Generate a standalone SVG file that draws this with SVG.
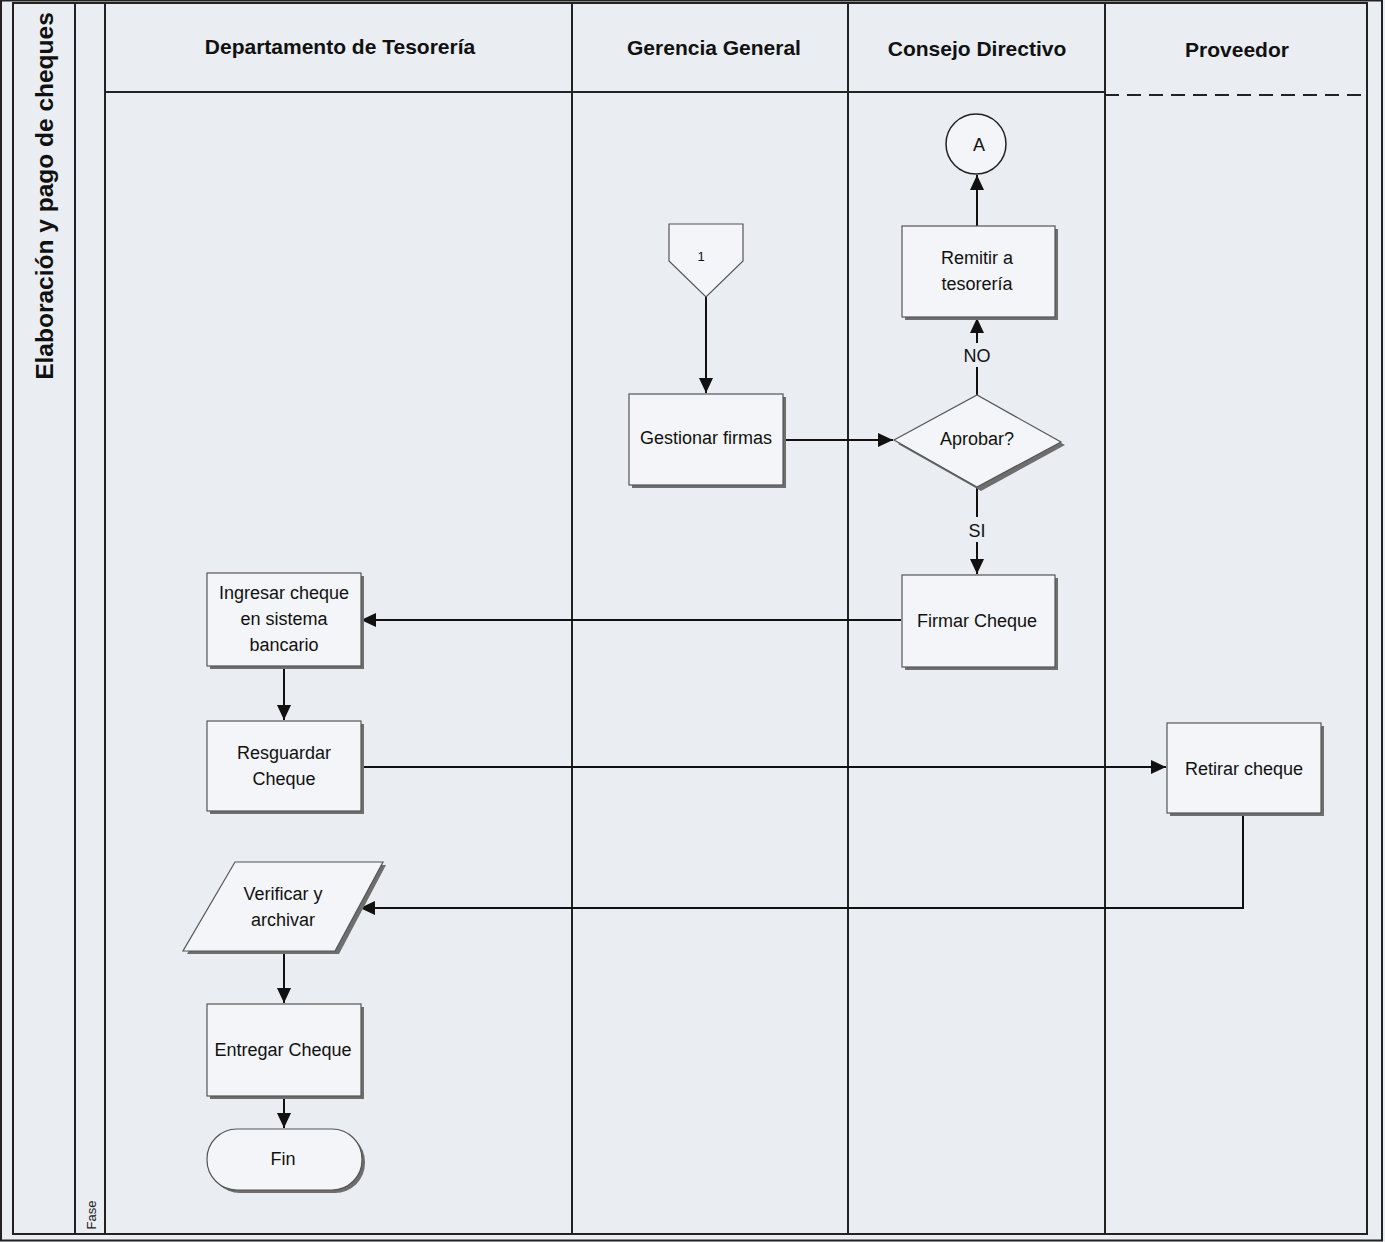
<svg xmlns="http://www.w3.org/2000/svg" width="1385" height="1242" viewBox="0 0 1385 1242">
  <defs>
    <marker id="arrow" markerUnits="userSpaceOnUse" markerWidth="16" markerHeight="14" refX="15" refY="7" orient="auto">
      <path d="M0,0 L15,7 L0,14 z" fill="#111"/>
    </marker>
    <style>
      .frame { fill: none; stroke: #222; stroke-width: 2; }
      .lane { stroke: #222; stroke-width: 2; fill: none; }
      .hdr { font-family: "Liberation Sans", Arial, sans-serif; font-weight: bold; font-size: 21px; fill: #111; text-anchor: middle; }
      .box { fill: #f3f5f8; stroke: #555; stroke-width: 1.2; }
      .shadow { fill: #6e6e6e; }
      .lbl { font-family: "Liberation Sans", Arial, sans-serif; font-size: 18px; fill: #111; text-anchor: middle; }
      .conn { fill: none; stroke: #111; stroke-width: 2; }
      .gap { fill: #eaedf1; }
    </style>
  </defs>

  <!-- page background -->
  <rect x="0" y="0" width="1385" height="1242" fill="#eaedf1"/>

  <!-- pool frame and lanes -->
  <g id="pool">
    <rect class="frame" x="1" y="0.5" width="1381" height="1240" stroke-width="1.5"/>
    <rect class="frame" x="13" y="3" width="1354" height="1231"/>
    <line class="lane" x1="75" y1="3" x2="75" y2="1234"/>
    <line class="lane" x1="105" y1="3" x2="105" y2="1234"/>
    <line class="lane" x1="572" y1="3" x2="572" y2="1234"/>
    <line class="lane" x1="848" y1="3" x2="848" y2="1234"/>
    <line class="lane" x1="1105" y1="3" x2="1105" y2="1234"/>
    <line class="lane" x1="105" y1="92" x2="1105" y2="92"/>
    <line class="lane" x1="1105" y1="95" x2="1367" y2="95" stroke-dasharray="14,8"/>
    <text transform="translate(53,196) rotate(-90)" font-family="'Liberation Sans', Arial, sans-serif" font-weight="bold" font-size="24.5" fill="#111" text-anchor="middle">Elaboración y pago de cheques</text>
    <text transform="translate(96,1215) rotate(-90)" font-family="'Liberation Sans', Arial, sans-serif" font-size="13" fill="#222" text-anchor="middle">Fase</text>
    <text class="hdr" x="340" y="54">Departamento de Tesorería</text>
    <text class="hdr" x="714" y="55">Gerencia General</text>
    <text class="hdr" x="977" y="56">Consejo Directivo</text>
    <text class="hdr" x="1237" y="57">Proveedor</text>
  </g>

  <!-- connectors -->
  <g id="connectors">
    <path class="conn" d="M706,297 V393" marker-end="url(#arrow)"/>
    <path class="conn" d="M783,440 H893" marker-end="url(#arrow)"/>
    <path class="conn" d="M977,395 V318" marker-end="url(#arrow)"/>
    <rect class="gap" x="962" y="343" width="30" height="24"/>
    <text class="lbl" x="977" y="362">NO</text>
    <path class="conn" d="M977,226 V175" marker-end="url(#arrow)"/>
    <path class="conn" d="M977,487 V574" marker-end="url(#arrow)"/>
    <rect class="gap" x="964" y="517" width="26" height="25"/>
    <text class="lbl" x="977" y="537">SI</text>
    <path class="conn" d="M901,620 H361" marker-end="url(#arrow)"/>
    <path class="conn" d="M284,666 V720" marker-end="url(#arrow)"/>
    <path class="conn" d="M361,767 H1166" marker-end="url(#arrow)"/>
    <path class="conn" d="M1243,813 V908 H360" marker-end="url(#arrow)"/>
    <path class="conn" d="M284,951 V1003" marker-end="url(#arrow)"/>
    <path class="conn" d="M284,1096 V1128" marker-end="url(#arrow)"/>
  </g>

  <!-- off-page connector 1 -->
  <g id="node-offpage-1">
    <path d="M669,224 H743 V261 L706,297 L669,261 z" fill="#f3f5f8" stroke="#555" stroke-width="1.2"/>
    <text x="701" y="261" font-family="'Liberation Sans', Arial, sans-serif" font-size="13" fill="#111" text-anchor="middle">1</text>
  </g>

  <!-- on-page connector A -->
  <g id="node-connector-a">
    <circle cx="976" cy="144" r="30" fill="#f3f5f8" stroke="#222" stroke-width="1.5"/>
    <text class="lbl" x="979" y="151">A</text>
  </g>

  <g id="node-gestionar-firmas">
    <rect class="shadow" x="632" y="397" width="154" height="91"/>
    <rect class="box" x="629" y="394" width="154" height="91"/>
    <text class="lbl" x="706" y="444">Gestionar firmas</text>
  </g>

  <g id="node-aprobar">
    <path class="shadow" d="M898,444 L981,398 L1065,445 L981,491 z"/>
    <path class="box" d="M894,440 L977,395 L1061,442 L977,487 z"/>
    <text class="lbl" x="977" y="445">Aprobar?</text>
  </g>

  <g id="node-remitir">
    <rect class="shadow" x="905" y="229" width="153" height="91"/>
    <rect class="box" x="902" y="226" width="153" height="91"/>
    <text class="lbl" x="977" y="264">Remitir a</text>
    <text class="lbl" x="977" y="290">tesorería</text>
  </g>

  <g id="node-firmar">
    <rect class="shadow" x="905" y="578" width="153" height="92"/>
    <rect class="box" x="902" y="575" width="153" height="92"/>
    <text class="lbl" x="977" y="627">Firmar Cheque</text>
  </g>

  <g id="node-ingresar">
    <rect class="shadow" x="210" y="576" width="154" height="93"/>
    <rect class="box" x="207" y="573" width="154" height="93"/>
    <text class="lbl" x="284" y="599">Ingresar cheque</text>
    <text class="lbl" x="284" y="625">en sistema</text>
    <text class="lbl" x="284" y="651">bancario</text>
  </g>

  <g id="node-resguardar">
    <rect class="shadow" x="210" y="724" width="154" height="90"/>
    <rect class="box" x="207" y="721" width="154" height="90"/>
    <text class="lbl" x="284" y="759">Resguardar</text>
    <text class="lbl" x="284" y="785">Cheque</text>
  </g>

  <g id="node-retirar">
    <rect class="shadow" x="1170" y="726" width="154" height="90"/>
    <rect class="box" x="1167" y="723" width="154" height="90"/>
    <text class="lbl" x="1244" y="775">Retirar cheque</text>
  </g>

  <g id="node-verificar">
    <path class="shadow" d="M238,865 H386 L339,954 H187 z"/>
    <path class="box" d="M235,862 H383 L335,951 H183 z"/>
    <text class="lbl" x="283" y="900">Verificar y</text>
    <text class="lbl" x="283" y="926">archivar</text>
  </g>

  <g id="node-entregar">
    <rect class="shadow" x="210" y="1007" width="154" height="92"/>
    <rect class="box" x="207" y="1004" width="154" height="92"/>
    <text class="lbl" x="283" y="1056">Entregar Cheque</text>
  </g>

  <g id="node-fin">
    <rect class="shadow" x="210" y="1132" width="155" height="61" rx="30" ry="30"/>
    <rect class="box" x="207" y="1129" width="155" height="61" rx="30" ry="30"/>
    <text class="lbl" x="283" y="1165">Fin</text>
  </g>
</svg>
